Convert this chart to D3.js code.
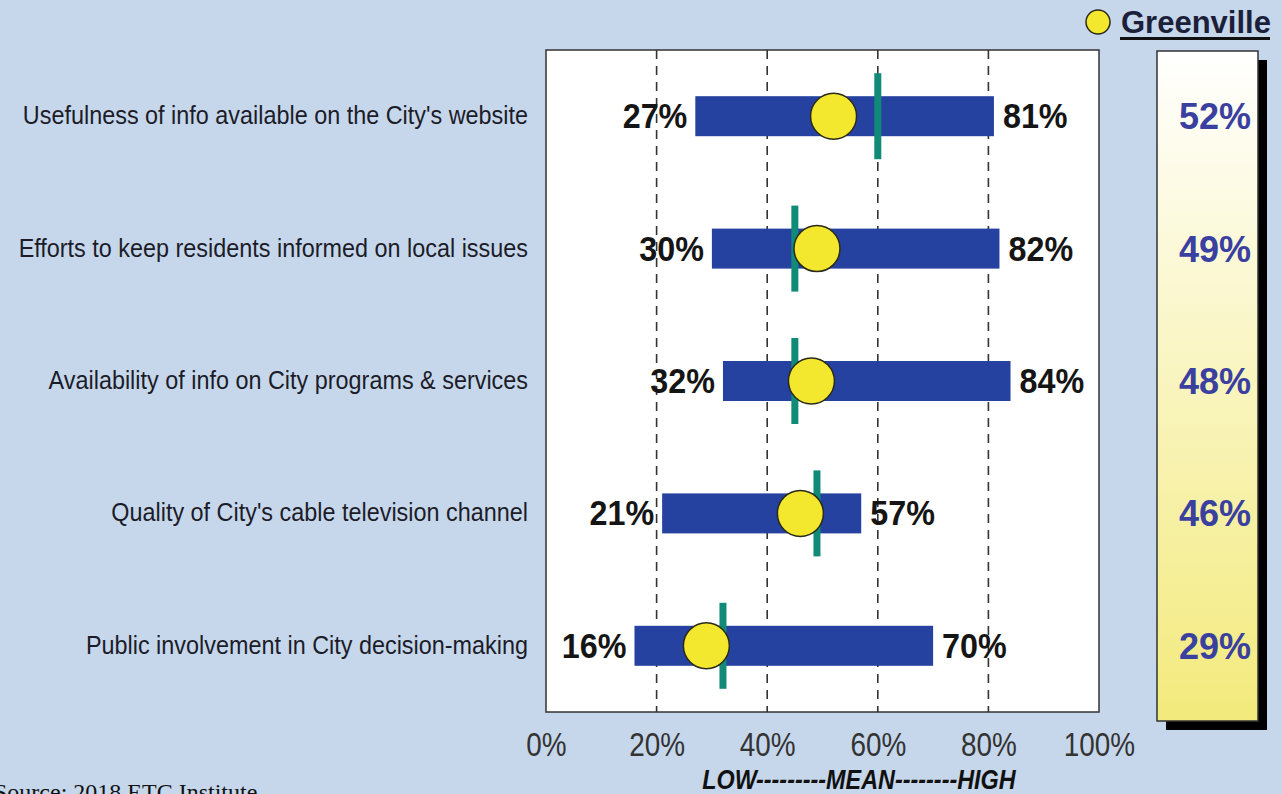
<!DOCTYPE html>
<html><head><meta charset="utf-8">
<script src="https://cdn.jsdelivr.net/npm/d3@7"></script>
<style>
html,body{margin:0;padding:0;background:#c6d7ec;}
svg{display:block;}
</style></head>
<body>
<svg id="chart" width="1282" height="794"></svg>
<script>
const categories = [
  "Usefulness of info available on the City's website",
  "Efforts to keep residents informed on local issues",
  "Availability of info on City programs & services",
  "Quality of City's cable television channel",
  "Public involvement in City decision-making"
];
const lowValues = [27, 30, 32, 21, 16];
const highValues = [81, 82, 84, 57, 70];
const meanValues = [60, 45, 45, 49, 32];
const greenvilleValues = [52, 49, 48, 46, 29];
const tickValues = [0, 20, 40, 60, 80, 100];
const axisCaption = "LOW---------MEAN--------HIGH";
const legendLabel = "Greenville";
const sourceText = "Source:  2018 ETC Institute";

const svg = d3.select("#chart");
const W = 1282, H = 794;
svg.append("rect").attr("width", W).attr("height", H).attr("fill", "#c6d7ec");

const plot = {left: 546, right: 1099, top: 50, bottom: 712};
const x = d3.scaleLinear().domain([0, 100]).range([plot.left, plot.right]);
const y = d3.scaleBand().domain(categories).range([plot.top, plot.bottom]).padding(0);
const yc = d => y(d) + y.bandwidth() / 2;

const defs = svg.append("defs");
const grad = defs.append("linearGradient").attr("id", "pg").attr("x1", 0).attr("y1", 0).attr("x2", 0).attr("y2", 1);
grad.append("stop").attr("offset", "0%").attr("stop-color", "#ffffff");
grad.append("stop").attr("offset", "100%").attr("stop-color", "#f3ea7c");

// plot box
svg.append("rect").attr("x", plot.left).attr("y", plot.top)
  .attr("width", plot.right - plot.left).attr("height", plot.bottom - plot.top)
  .attr("fill", "#ffffff").attr("stroke", "#333").attr("stroke-width", 1.5);

// grid lines
svg.append("g").selectAll("line").data(tickValues.filter(t => t > 0 && t < 100)).join("line")
  .attr("x1", d => x(d)).attr("x2", d => x(d))
  .attr("y1", plot.top).attr("y2", plot.bottom)
  .attr("stroke", "#333").attr("stroke-width", 1.6).attr("stroke-dasharray", "9,7");

const sans = "'Liberation Sans',Arial,sans-serif";

// axis
const axis = d3.axisBottom(x).tickValues(tickValues).tickFormat(d => d + "%").tickSize(0).tickPadding(0);
const ag = svg.append("g").attr("transform", `translate(0,${plot.bottom})`).call(axis);
ag.select(".domain").remove();
ag.selectAll("text").attr("dy", null).attr("y", 0)
  .attr("transform", "translate(0,44) scale(0.9,1.08)")
  .attr("font-family", sans)
  .attr("font-size", 31).attr("fill", "#333");

svg.append("text").attr("transform", "translate(859,789) scale(0.9,1.05)").attr("text-anchor", "middle")
  .attr("font-family", sans)
  .attr("font-weight", "bold").attr("font-style", "italic").attr("font-size", 26).attr("fill", "#111")
  .text(axisCaption);

svg.append("text").attr("x", -6).attr("y", 800)
  .attr("font-family", "'Liberation Serif','Times New Roman',serif").attr("font-size", 24).attr("fill", "#111")
  .text(sourceText);

// category labels
svg.append("g").selectAll("text").data(categories).join("text")
  .attr("transform", d => `translate(528,${yc(d) + 8}) scale(0.975,1.06)`)
  .attr("text-anchor", "end")
  .attr("font-family", sans).attr("font-size", 24)
  .attr("fill", "#1c1c28")
  .text(d => d);

const rows = categories.map((c, i) => ({c, lo: lowValues[i], hi: highValues[i], mean: meanValues[i], g: greenvilleValues[i]}));
const barH = 40, meanH = 86;

// bars
svg.append("g").selectAll("rect").data(rows).join("rect")
  .attr("x", d => x(d.lo)).attr("width", d => x(d.hi) - x(d.lo))
  .attr("y", d => yc(d.c) - barH / 2).attr("height", barH)
  .attr("fill", "#2542a0");

// mean lines
svg.append("g").selectAll("rect").data(rows).join("rect")
  .attr("x", d => x(d.mean) - 3.5).attr("width", 7)
  .attr("y", d => yc(d.c) - meanH / 2).attr("height", meanH)
  .attr("fill", "#128a78");

// greenville dots
svg.append("g").selectAll("circle").data(rows).join("circle")
  .attr("cx", d => x(d.g)).attr("cy", d => yc(d.c)).attr("r", 23)
  .attr("fill", "#f4e82e").attr("stroke", "#2a2a1a").attr("stroke-width", 1.5);

// bar end labels
svg.append("g").selectAll("text").data(rows).join("text")
  .attr("transform", d => `translate(${x(d.lo) - 8},${yc(d.c) + 12}) scale(0.95,1.05)`)
  .attr("text-anchor", "end")
  .attr("font-family", sans).attr("font-weight", "bold").attr("font-size", 34).attr("fill", "#151515")
  .text(d => d.lo + "%");
svg.append("g").selectAll("text").data(rows).join("text")
  .attr("transform", d => `translate(${x(d.hi) + 9},${yc(d.c) + 12}) scale(0.95,1.05)`)
  .attr("text-anchor", "start")
  .attr("font-family", sans).attr("font-weight", "bold").attr("font-size", 34).attr("fill", "#151515")
  .text(d => d.hi + "%");

// right panel
const panel = {x: 1157, y: 51, w: 101, h: 670};
svg.append("rect").attr("x", panel.x + 9).attr("y", panel.y + 9).attr("width", panel.w).attr("height", panel.h).attr("fill", "#000");
svg.append("rect").attr("x", panel.x).attr("y", panel.y).attr("width", panel.w).attr("height", panel.h)
  .attr("fill", "url(#pg)").attr("stroke", "#333").attr("stroke-width", 1.5);
svg.append("g").selectAll("text").data(rows).join("text")
  .attr("x", 1251).attr("y", d => yc(d.c) + 13).attr("text-anchor", "end")
  .attr("font-family", sans).attr("font-weight", "bold").attr("font-size", 36).attr("fill", "#3a40a0")
  .text(d => d.g + "%");

// legend
svg.append("circle").attr("cx", 1098).attr("cy", 22).attr("r", 12)
  .attr("fill", "#f4e82e").attr("stroke", "#2a2a1a").attr("stroke-width", 1.5);
svg.append("text").attr("x", 1121).attr("y", 33)
  .attr("font-family", sans).attr("font-weight", "bold").attr("font-size", 31).attr("fill", "#1b1f3a")
  .text(legendLabel);
svg.append("rect").attr("x", 1120).attr("y", 37).attr("width", 150).attr("height", 3).attr("fill", "#111");
</script>
</body></html>
